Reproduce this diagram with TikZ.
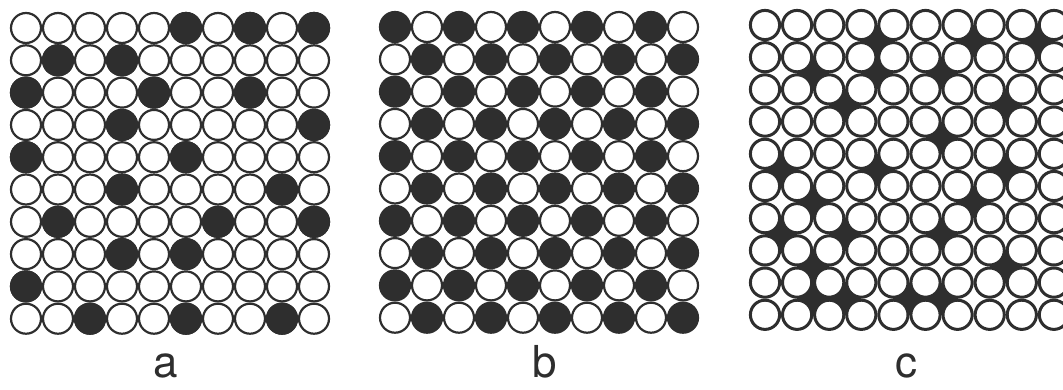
\documentclass[tikz,border=0pt]{standalone}
\usepackage{fontspec}
\setsansfont{TeX Gyre Heros}
\definecolor{ink}{HTML}{2E2E2E}
\begin{document}
\begin{tikzpicture}[x=1pt,y=-1pt,
  whiteball/.style={draw=ink,line width=2.2pt,fill=white},
  darkball/.style={draw=ink,line width=2.2pt,fill=ink},
  ringball/.style={draw=ink,line width=3pt,fill=white},
  hole/.style={fill=ink},
  panellabel/.style={font=\sffamily\fontsize{44}{44}\selectfont,text=ink,anchor=base,inner sep=0pt}]
\useasboundingbox (0,0) rectangle (1063,389);
% ---------- panel a ----------
\def\ax{26}\def\ay{28}\def\sx{32}\def\sy{32.3}
\foreach \r in {1,...,10}{
  \foreach \c in {1,...,10}{
    \draw[whiteball] ({\ax+(\c-1)*\sx},{\ay+(\r-1)*\sy}) circle[radius=15pt];
  }
}
\foreach \r/\c in {1/6,1/8,1/10,2/2,2/4,3/1,3/5,3/8,4/4,4/10,5/1,5/6,6/4,6/9,7/2,7/7,7/10,8/4,8/6,9/1,10/3,10/6,10/9}{
  \draw[darkball] ({\ax+(\c-1)*\sx},{\ay+(\r-1)*\sy}) circle[radius=15pt];
}
% ---------- panel b ----------
\def\bx{395}\def\by{27}
\foreach \r in {1,...,10}{
  \foreach \c in {1,...,10}{
    \pgfmathtruncatemacro\k{mod(\r+\c,2)}
    \ifnum\k=0
      \draw[darkball] ({\bx+(\c-1)*\sx},{\by+(\r-1)*\sy}) circle[radius=15pt];
    \else
      \draw[whiteball] ({\bx+(\c-1)*\sx},{\by+(\r-1)*\sy}) circle[radius=15pt];
    \fi
  }
}
% ---------- panel c ----------
\def\cx{765}\def\cy{25}\def\tx{32.1}\def\ty{32.2}
\foreach \r/\c in {1/4,1/7,1/9,2/2,2/4,2/6,3/3,3/8,4/6,5/1,5/4,5/8,6/2,6/7,7/1,7/3,7/6,8/2,8/8,9/2,9/3,9/5,9/6}{
  \fill[hole] ({\cx+(\c-1)*\tx},{\cy+(\r-1)*\ty}) rectangle ({\cx+\c*\tx},{\cy+\r*\ty});
}
\foreach \r in {1,...,10}{
  \foreach \c in {1,...,10}{
    \draw[ringball] ({\cx+(\c-1)*\tx},{\cy+(\r-1)*\ty}) circle[radius=14.6pt];
  }
}
% ---------- labels ----------
\node[panellabel] (la) at (166,377) {a};
\node[panellabel] (lb) at (545,377) {b};
\node[panellabel] (lc) at (906,377) {c};
\end{tikzpicture}
\end{document}
